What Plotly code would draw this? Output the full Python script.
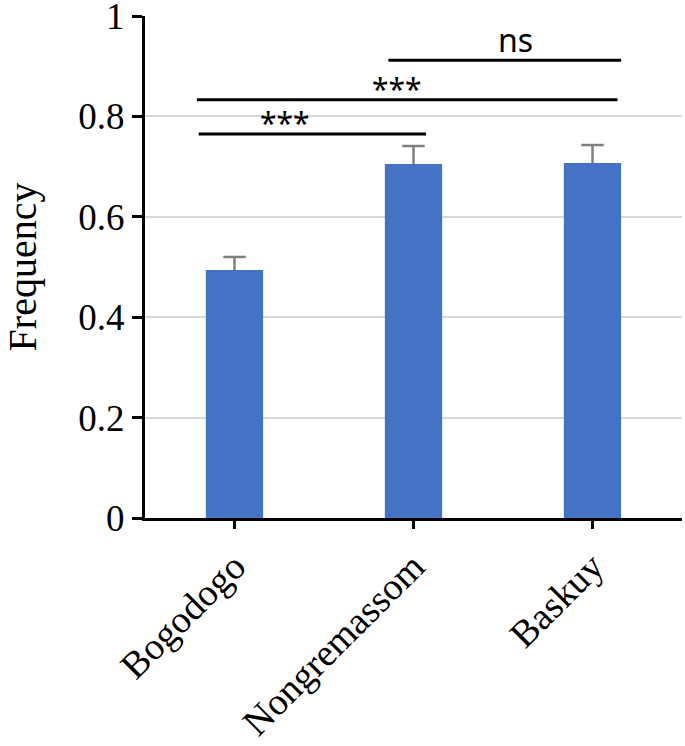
import plotly.graph_objects as go

categories = ["Bogodogo", "Nongremassom", "Baskuy"]
frequency = [0.494, 0.705, 0.707]
error_up = [0.026, 0.036, 0.036]
y_ticks = [0, 0.2, 0.4, 0.6, 0.8, 1]
y_tick_labels = ["0", "0.2", "0.4", "0.6", "0.8", "1"]

# significance comparisons (in category / frequency units)
comp_x0 = [-0.20, -0.21, 0.86]
comp_x1 = [1.07, 2.14, 2.16]
comp_height = [0.765, 0.833, 0.912]
comp_label = ["***", "***", "ns"]
comp_label_x = [0.28, 0.91, 1.57]

SERIF = "Liberation Serif, Times New Roman, serif"
SANS = "Noto Sans, Open Sans, sans-serif"

xs = list(range(len(categories)))
fig = go.Figure()
fig.add_trace(go.Bar(
    x=xs, y=frequency, width=0.32,
    marker=dict(color="#4472C4", line=dict(width=0)),
    showlegend=False, hoverinfo="y",
))

# upper-only error bars (stem + cap)
stem_x, stem_y = [], []
for i, v, e in zip(xs, frequency, error_up):
    stem_x += [i, i, None]
    stem_y += [v, v + e, None]
fig.add_trace(go.Scatter(
    x=stem_x, y=stem_y, mode="lines",
    line=dict(color="#7f7f7f", width=2.5), showlegend=False, hoverinfo="skip",
))
fig.add_trace(go.Scatter(
    x=xs, y=[v + e for v, e in zip(frequency, error_up)], mode="markers",
    marker=dict(symbol="line-ew", size=16, line=dict(color="#7f7f7f", width=2.5)),
    showlegend=False, hoverinfo="skip",
))

for x0, x1, h, lab, lx in zip(comp_x0, comp_x1, comp_height, comp_label, comp_label_x):
    fig.add_shape(type="line", xref="x", yref="y", x0=x0, x1=x1, y0=h, y1=h,
                  line=dict(color="black", width=3))
    if lab == "ns":
        fig.add_annotation(x=lx, y=h, xref="x", yref="y", text=lab, showarrow=False,
                           yanchor="bottom", yshift=-3,
                           font=dict(family=SANS, size=32, color="black"))
    else:
        fig.add_annotation(x=lx, y=h, xref="x", yref="y", text=lab, showarrow=False,
                           yanchor="bottom", yshift=-11,
                           font=dict(family=SANS, size=30, color="black"))

fig.update_layout(
    width=685, height=746,
    margin=dict(l=145, r=3, t=16, b=228, autoexpand=False),
    paper_bgcolor="white", plot_bgcolor="white",
)
fig.update_xaxes(
    range=[-0.5, 2.5], automargin=False,
    tickmode="array", tickvals=xs, ticktext=categories,
    tickangle=-45,
    tickfont=dict(family=SERIF, size=38, color="black"),
    showline=True, linecolor="black", linewidth=3,
    ticks="outside", ticklen=8, tickwidth=3, tickcolor="black",
    showgrid=False, zeroline=False,
)
fig.update_yaxes(
    range=[0, 1], automargin=False, ticklabeloverflow="allow",
    tickmode="array", tickvals=y_ticks, ticktext=y_tick_labels,
    tickfont=dict(family=SERIF, size=37, color="black"),
    showline=True, linecolor="black", linewidth=3,
    ticks="outside", ticklen=10, tickwidth=3, tickcolor="black",
    showgrid=True, gridcolor="#d9d9d9", gridwidth=1.5,
    zeroline=False,
    title=dict(text="Frequency", font=dict(family=SERIF, size=40, color="black"), standoff=46),
)

fig.write_html("out.html", config={"displayModeBar": False},
               post_script="document.body.style.margin='0';")
